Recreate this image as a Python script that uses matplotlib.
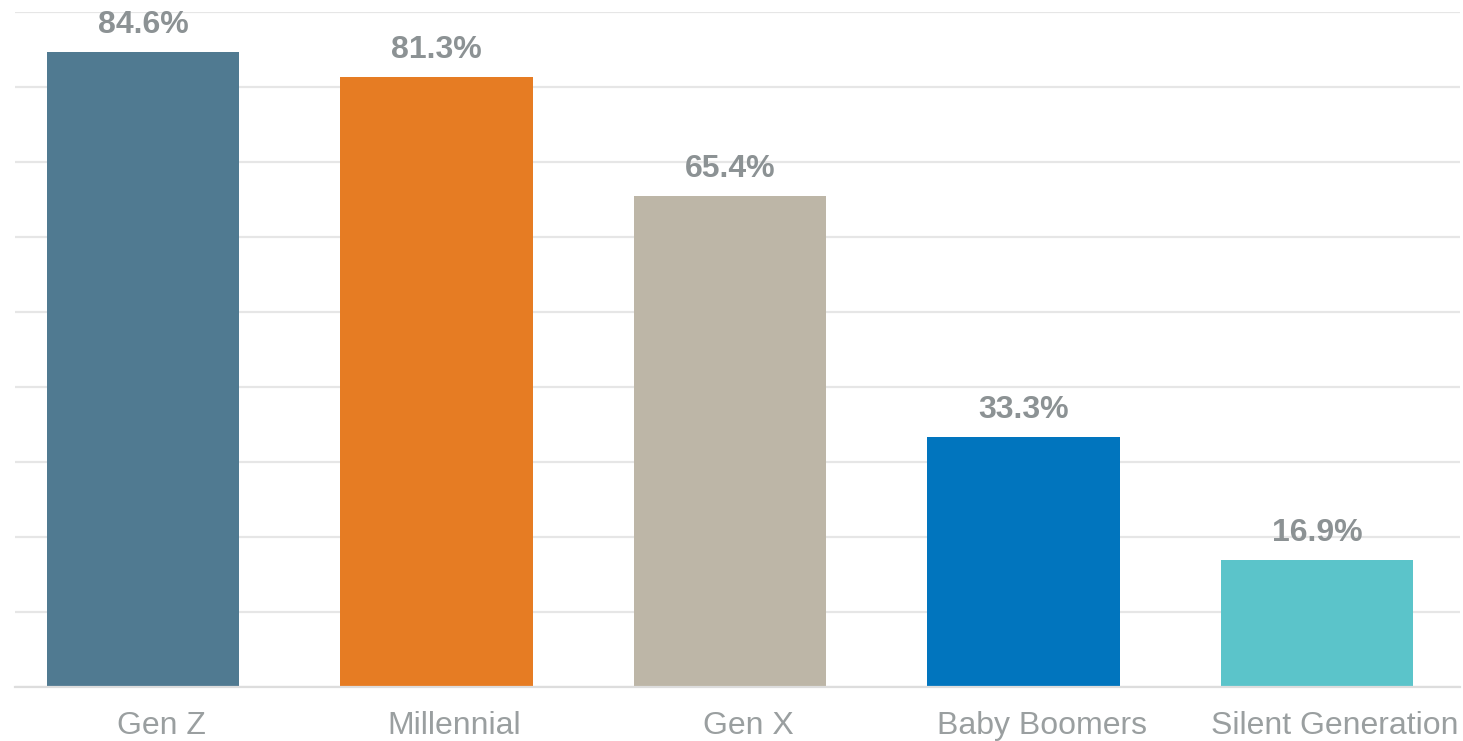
import matplotlib.pyplot as plt
from matplotlib.transforms import ScaledTranslation

# data
generations = ["Gen Z", "Millennial", "Gen X", "Baby Boomers", "Silent Generation"]
shares = [84.6, 81.3, 65.4, 33.3, 16.9]
bar_colors = ["#507A91", "#E67C23", "#BDB6A7", "#0175BE", "#5BC4CA"]

plt.rcParams['font.family'] = ['Liberation Sans', 'DejaVu Sans']

fig = plt.figure(figsize=(14.63, 7.41), dpi=100)
ax = fig.add_axes([0.01025, 0.0729, 0.9877, 0.911])

x = range(len(generations))
bars = ax.bar(x, shares, width=0.655, color=bar_colors, zorder=3)

for b, v in zip(bars, shares):
    ax.annotate(f"{v:.1f}%", (b.get_x() + b.get_width() / 2, v),
                xytext=(0, 9), textcoords="offset points",
                ha="center", va="bottom", fontsize=23, fontweight="bold",
                color="#8C9294")

ax.set_xlim(-0.436, 4.487)
ax.set_ylim(0, 90)
ax.set_yticks(range(0, 91, 10))
ax.yaxis.grid(True, color="#E6E6E6", linewidth=1.6, zorder=0)
ax.set_yticklabels([])
ax.tick_params(axis="y", length=0)
ax.set_xticks(list(x))
ax.set_xticklabels(generations, fontsize=23, color="#9A9FA0")
ax.tick_params(axis="x", length=0, pad=17)

# category labels sit a bit right of the bar centres in the original
shift = ScaledTranslation(18 / 100, 0, fig.dpi_scale_trans)
for lbl in ax.get_xticklabels():
    lbl.set_transform(lbl.get_transform() + shift)

for s in ["top", "right", "left"]:
    ax.spines[s].set_visible(False)
ax.spines["bottom"].set_color("#DDDDDD")
ax.spines["bottom"].set_linewidth(1.6)
ax.spines["bottom"].set_zorder(4)

fig.savefig("out.png", dpi=100)
